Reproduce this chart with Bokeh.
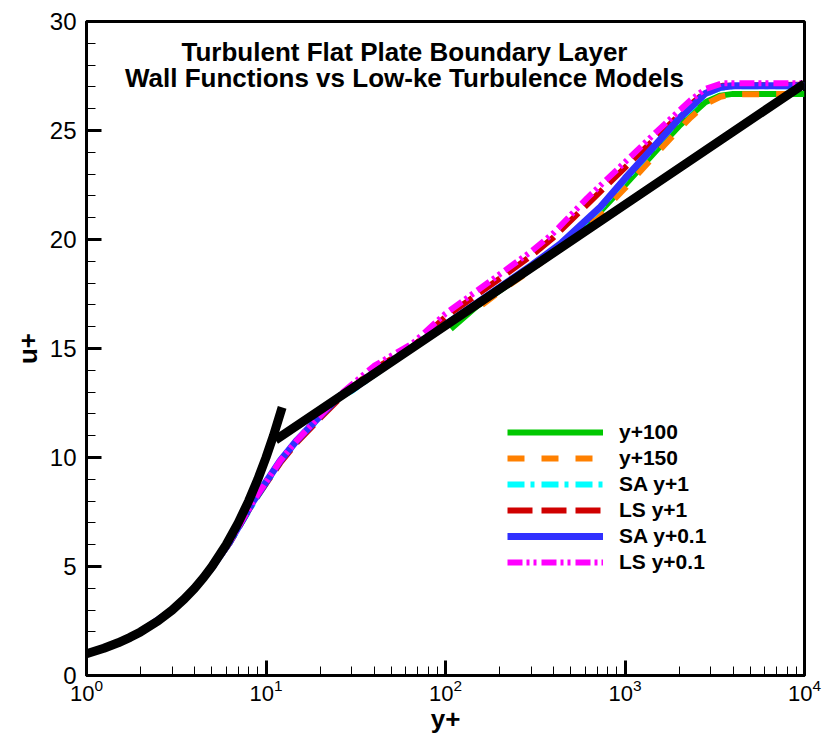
from bokeh.plotting import figure
from bokeh.models import Legend, LegendItem, SingleIntervalTicker, Range1d, Label, LogTicker
from bokeh.embed import file_html
from bokeh.resources import INLINE

# ---------------- data ----------------
# law of the wall: viscous sublayer u+ = y+ and log law
visc_yp = [1, 1.25, 1.5, 1.75, 2, 2.5, 3, 3.5, 4, 4.5, 5, 6, 7, 8, 9, 10, 11, 12.3]
visc_up = [1, 1.25, 1.5, 1.75, 2, 2.5, 3, 3.5, 4, 4.5, 5, 6, 7, 8, 9, 10, 11, 12.3]
log_yp = [11.3, 100, 1000, 10000]
log_up = [10.8, 16.05, 21.6, 27.15]

# y+100 (wall function)
wf100_yp = [107, 150, 200, 300, 437, 731, 1000, 1500, 2000, 2325, 2800, 3400, 4000, 10000]
wf100_up = [15.9, 16.95, 17.65, 18.65, 19.65, 21.3, 22.5, 24.1, 25.2, 25.7, 26.3, 26.6, 26.68, 26.68]

# y+150 (wall function)
wf150_yp = [160, 200, 300, 437, 731, 1000, 1500, 2000, 2325, 2800, 3400, 4000, 10000]
wf150_up = [17.0, 17.6, 18.6, 19.6, 21.2, 22.35, 23.95, 25.05, 25.6, 26.2, 26.55, 26.66, 26.68]

# SA y+1
sa1_yp = [1, 1.5, 2, 3, 4, 5, 6.3, 8.5, 12, 14.9, 20, 26, 30, 50, 100, 200, 300, 437, 731, 1000, 1500, 2000, 2325, 2800, 3400, 4000, 10000]
sa1_up = [1, 1.5, 2, 3, 3.97, 4.93, 6.1, 7.9, 9.8, 10.75, 11.85, 12.8, 13.05, 14.35, 16.05, 17.75, 18.75, 19.75, 21.45, 22.75, 24.35, 25.5, 26.0, 26.65, 26.95, 27.03, 27.03]

# LS y+1
ls1_yp = [1, 1.5, 2, 3, 4, 5, 6.3, 8.5, 12, 14.9, 20, 26, 40, 66, 100, 200, 300, 400, 615, 1000, 1500, 2000, 2325, 2800, 3500, 10000]
ls1_up = [1, 1.5, 2, 3, 3.97, 4.93, 6.1, 7.95, 9.75, 10.7, 11.8, 12.75, 14.05, 15.1, 16.45, 18.2, 19.25, 20.1, 21.6, 23.3, 24.7, 25.7, 26.2, 26.75, 27.05, 27.1]

# SA y+0.1
sa01_yp = [1, 1.5, 2, 3, 4, 5, 6.3, 8.5, 12, 14.9, 20, 26, 30, 50, 100, 200, 300, 437, 731, 1000, 1500, 2000, 2325, 2800, 3400, 4000, 10000]
sa01_up = [1, 1.5, 2, 3, 3.98, 4.95, 6.15, 8.0, 9.85, 10.8, 11.9, 12.85, 13.1, 14.4, 16.1, 17.8, 18.8, 19.8, 21.5, 22.8, 24.4, 25.55, 26.07, 26.7, 26.98, 27.05, 27.05]

# LS y+0.1
ls01_yp = [1, 1.5, 2, 3, 4, 5, 6.3, 8.5, 12, 14.9, 20, 26, 40, 66, 100, 200, 300, 400, 615, 1000, 1500, 2000, 2325, 2800, 3500, 10000]
ls01_up = [1, 1.5, 2, 3, 3.98, 4.95, 6.15, 8.0, 9.85, 10.8, 11.9, 12.9, 14.2, 15.25, 16.6, 18.4, 19.45, 20.3, 21.9, 23.55, 24.95, 25.9, 26.4, 26.9, 27.17, 27.17]

series_labels = ["y+100", "y+150", "SA y+1", "LS y+1", "SA y+0.1", "LS y+0.1"]
title_lines = ["Turbulent Flat Plate Boundary Layer", "Wall Functions vs Low-ke Turbulence Models"]

FONT = "Liberation Sans"

p = figure(width=823, height=736, x_axis_type="log",
           x_range=Range1d(1, 10000), y_range=Range1d(0, 30),
           output_backend="svg", toolbar_location=None,
           min_border_left=86, min_border_right=19, min_border_top=21, min_border_bottom=61)
p.background_fill_color = "white"
p.border_fill_color = "white"
p.grid.visible = False
p.outline_line_color = "black"
p.outline_line_width = 3

# axes
p.xaxis.ticker = LogTicker(num_minor_ticks=10)
p.yaxis.ticker = SingleIntervalTicker(interval=5, num_minor_ticks=5)
for ax in (p.xaxis[0], p.yaxis[0]):
    ax.axis_line_width = 3
    ax.axis_line_color = "black"
    ax.major_tick_in = 15
    ax.major_tick_out = 0
    ax.minor_tick_in = 9
    ax.minor_tick_out = 0
    ax.major_tick_line_width = 3
    ax.minor_tick_line_width = 1
    ax.major_tick_line_color = "black"
    ax.minor_tick_line_color = "black"
    ax.major_label_text_font = FONT
    ax.major_label_text_color = "black"
    ax.axis_label_text_font = FONT
    ax.axis_label_text_font_size = "26px"
    ax.axis_label_text_font_style = "bold"
    ax.axis_label_text_color = "black"
p.yaxis.major_label_text_font_size = "24px"
p.xaxis.major_label_text_font_size = "22px"
p.xaxis.axis_label = "y+"
p.yaxis.axis_label = "u+"
p.xaxis.major_label_standoff = 3
p.yaxis.major_label_standoff = 10
p.xaxis.axis_label_standoff = 0
p.yaxis.axis_label_standoff = 4

# colored series
r_g = p.line(wf100_yp, wf100_up, line_color="#00c800", line_width=6)
r_o = p.line(wf150_yp, wf150_up, line_color="#ff8000", line_width=6, line_dash="17 17")
r_c = p.line(sa1_yp, sa1_up, line_color="#00ffff", line_width=6, line_dash="17 6 4 7")
r_r = p.line(ls1_yp, ls1_up, line_color="#d00000", line_width=6, line_dash="25 9")
r_b = p.line(sa01_yp, sa01_up, line_color="#3030ff", line_width=7)
r_m = p.line(ls01_yp, ls01_up, line_color="#ff00ff", line_width=6, line_dash="15 4 3 4 3 5")

# law of the wall (on top)
p.line(visc_yp, visc_up, line_color="black", line_width=9)
p.line(log_yp, log_up, line_color="black", line_width=9)

items = [LegendItem(label=lab, renderers=[r]) for lab, r in
         zip(series_labels, [r_g, r_o, r_c, r_r, r_b, r_m])]
legend = Legend(items=items, location=(421, 101), orientation="vertical",
                glyph_width=96, glyph_height=20, label_height=20, spacing=2,
                padding=0, margin=0, label_standoff=16,
                label_text_font=FONT, label_text_font_size="21px",
                label_text_font_style="bold", label_text_color="black",
                border_line_alpha=0, background_fill_alpha=0)
p.add_layout(legend)

# title inside the plot
for txt, yy in zip(title_lines, [28.61, 27.39]):
    p.add_layout(Label(x=59.1, y=yy, text=txt, text_align="center", text_baseline="alphabetic",
                       text_font=FONT, text_font_size="26px", text_font_style="bold",
                       text_color="black"))

open("out.html", "w").write(file_html(p, INLINE))
